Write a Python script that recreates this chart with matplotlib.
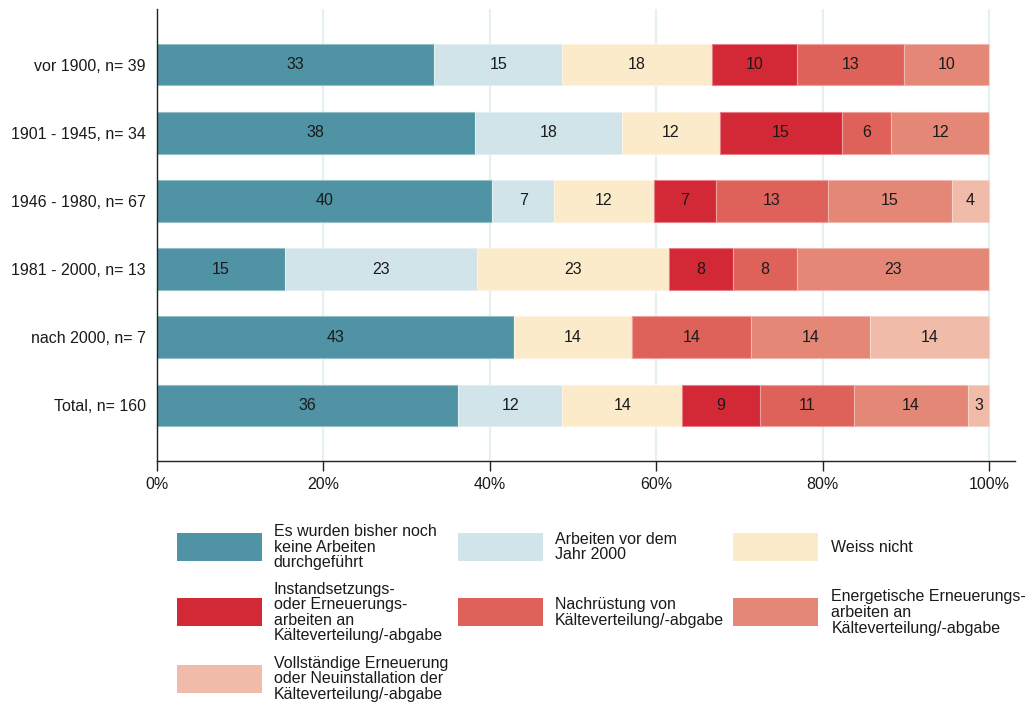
import matplotlib
matplotlib.use("Agg")
import matplotlib.pyplot as plt
import matplotlib.colors as mcolors
from matplotlib.patches import Rectangle
import numpy as np

plt.rcParams['font.family'] = ['Liberation Sans', 'DejaVu Sans']

# building age groups and number of answers per group
groups = ['vor 1900', '1901 - 1945', '1946 - 1980', '1981 - 2000', 'nach 2000', 'Total']
n_total = [39, 34, 67, 13, 7, 160]

categories = [
    'Es wurden bisher noch\nkeine Arbeiten\ndurchgeführt',
    'Arbeiten vor dem\nJahr 2000',
    'Weiss nicht',
    'Instandsetzungs-\noder Erneuerungs-\narbeiten an\nKälteverteilung/-abgabe',
    'Nachrüstung von\nKälteverteilung/-abgabe',
    'Energetische Erneuerungs-\narbeiten an\nKälteverteilung/-abgabe',
    'Vollständige Erneuerung\noder Neuinstallation der\nKälteverteilung/-abgabe',
]

# share of answers in percent per category, one entry per group
keine_arbeiten = [33.33, 38.24, 40.30, 15.38, 42.86, 36.25]
vor_2000 = [15.38, 17.65, 7.46, 23.08, 0.0, 12.49]
weiss_nicht = [17.95, 11.76, 11.94, 23.08, 14.28, 14.37]
instandsetzung = [10.26, 14.71, 7.46, 7.69, 0.0, 9.38]
nachruestung = [12.82, 5.88, 13.43, 7.69, 14.29, 11.25]
energetisch = [10.26, 11.76, 14.93, 23.08, 14.29, 13.75]
vollstaendig = [0.0, 0.0, 4.48, 0.0, 14.28, 2.51]

shares = [keine_arbeiten, vor_2000, weiss_nicht, instandsetzung,
          nachruestung, energetisch, vollstaendig]

colors = ['#4F93A4', '#D0E4EA', '#FBEBCB', '#D32836',
          '#DF625A', '#E48777', '#F0BBA8']

fig = plt.figure(figsize=(10.29, 7.04), dpi=100)
ax = fig.add_axes([0.1523, 0.3456, 0.9864 - 0.1523, 0.9868 - 0.3456])

y = np.arange(len(groups))
left = np.zeros(len(groups))
for vals, col in zip(shares, colors):
    pct = np.array(vals)
    edge = tuple(0.6 * e + 0.4 for e in mcolors.to_rgb(col))
    ax.barh(y, pct, left=left, height=0.61, color=col, edgecolor=edge,
            linewidth=0.8, zorder=2)
    for yi, (l, w) in enumerate(zip(left, pct)):
        if w > 0:
            ax.text(l + w / 2, yi, '%.0f' % w, ha='center', va='center',
                    fontsize=11.5, color='#1a1a1a', zorder=3)
    left += pct

ax.set_xlim(0, 103.1)
ax.set_ylim(len(groups) - 1 + 0.81, -0.81)

ax.set_yticks(y)
ax.set_yticklabels(['%s, n= %d' % (g, n) for g, n in zip(groups, n_total)],
                   fontsize=11.5, color='#1a1a1a')
ax.tick_params(axis='y', length=0, pad=8)

ax.set_xticks([0, 20, 40, 60, 80, 100])
ax.set_xticklabels(['0%', '20%', '40%', '60%', '80%', '100%'],
                   fontsize=11.5, color='#1a1a1a')
ax.tick_params(axis='x', length=7, width=1, color='#222222', pad=5)

ax.grid(axis='x', color='#E6EFF2', linewidth=1.6, zorder=0)
ax.set_axisbelow(True)

for side in ['top', 'right']:
    ax.spines[side].set_visible(False)
for side in ['left', 'bottom']:
    ax.spines[side].set_color('#222222')
    ax.spines[side].set_linewidth(1)

# legend below the plot, three columns
sw_x = [0.172, 0.445, 0.712]
tx_x = [0.266, 0.539, 0.808]
row_y = [0.2230, 0.1300, 0.0360]
sw_w, sw_h = 0.0826, 0.0398
for i, (lab, col) in enumerate(zip(categories, colors)):
    r, c = divmod(i, 3)
    fig.add_artist(Rectangle((sw_x[c], row_y[r] - sw_h / 2), sw_w, sw_h,
                             transform=fig.transFigure, facecolor=col,
                             edgecolor='none'))
    fig.text(tx_x[c], row_y[r], lab, ha='left', va='center', fontsize=11.5,
             linespacing=1.05, color='#1a1a1a')

fig.savefig('out.png', dpi=100)
